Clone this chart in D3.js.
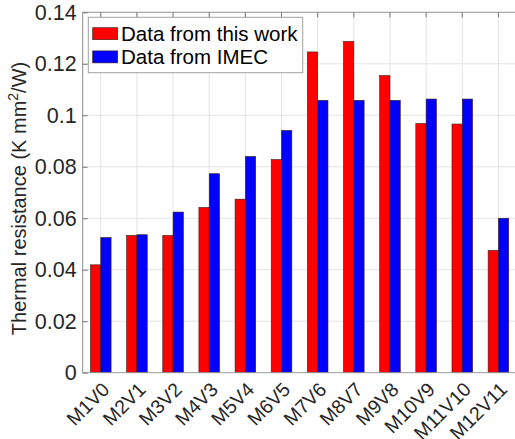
<!DOCTYPE html>
<html>
<head>
<meta charset="utf-8">
<script src="https://cdn.jsdelivr.net/npm/d3@7"></script>
<style>
  html, body { margin: 0; padding: 0; background: #fff; }
  svg { display: block; font-family: "Liberation Sans", Arial, sans-serif; }
</style>
</head>
<body>
<svg id="chart" width="515" height="439"></svg>
<script>
// Interconnect levels and their thermal resistance (K mm^2/W)
const categories = ["M1V0", "M2V1", "M3V2", "M4V3", "M5V4", "M6V5",
                    "M7V6", "M8V7", "M9V8", "M10V9", "M11V10", "M12V11"];
const thisWork = [0.0419, 0.0533, 0.0533, 0.0642, 0.0674, 0.0828,
                  0.1246, 0.1287, 0.1154, 0.0968, 0.0966, 0.0475];
const imec     = [0.0525, 0.0536, 0.0624, 0.0773, 0.0840, 0.0941,
                  0.1058, 0.1058, 0.1058, 0.1063, 0.1063, 0.0600];
const yTicks = [0, 0.02, 0.04, 0.06, 0.08, 0.1, 0.12, 0.14];
const seriesNames = ["Data from this work", "Data from IMEC"];
const seriesColors = ["#ff0000", "#0000ff"];

const svg = d3.select("#chart");
const plotL = 82.7, plotT = 12.3, plotB = 372.7, plotR = 516.5;
const textColor = "#262626";

const x = d3.scaleLinear().domain([0.5, categories.length + 0.5]).range([plotL, plotR]);
const y = d3.scaleLinear().domain([0, 0.14]).range([plotB, plotT]);
const barW = 0.285;

// grid
const grid = svg.append("g");
grid.selectAll("line.gy").data(yTicks.slice(1)).join("line")
  .attr("x1", plotL).attr("x2", plotR)
  .attr("y1", d => y(d)).attr("y2", d => y(d))
  .attr("stroke", "#e3e3e3").attr("stroke-width", 1);
grid.selectAll("line.gx").data(categories).join("line")
  .attr("x1", (d, i) => x(i + 1)).attr("x2", (d, i) => x(i + 1))
  .attr("y1", plotT).attr("y2", plotB)
  .attr("stroke", "#e3e3e3").attr("stroke-width", 1);

// bars
const series = [thisWork, imec];
series.forEach((vals, s) => {
  svg.append("g").selectAll("rect").data(vals).join("rect")
    .attr("x", (d, i) => x(i + 1 + (s === 0 ? -barW : 0)))
    .attr("width", x(barW) - x(0))
    .attr("y", d => y(d))
    .attr("height", d => y(0) - y(d))
    .attr("fill", seriesColors[s])
    .attr("stroke", "#3a1a1a").attr("stroke-width", 0.6);
});

// box lines
svg.append("line").attr("x1", plotL).attr("x2", plotR).attr("y1", plotT).attr("y2", plotT)
  .attr("stroke", "#9a9a9a").attr("stroke-width", 1);
svg.append("line").attr("x1", plotL).attr("x2", plotR).attr("y1", plotB).attr("y2", plotB)
  .attr("stroke", "#9a9a9a").attr("stroke-width", 1);
svg.append("line").attr("x1", plotL).attr("x2", plotL).attr("y1", plotT).attr("y2", plotB)
  .attr("stroke", "#8a8a8a").attr("stroke-width", 1);

// y axis
const yAxis = d3.axisLeft(y).tickValues(yTicks).tickSize(-5).tickPadding(6)
  .tickFormat(d => d === 0 ? "0" : String(+d.toFixed(2)));
const ya = svg.append("g").attr("transform", `translate(${plotL},0)`).call(yAxis);
ya.select(".domain").remove();
ya.selectAll(".tick line").attr("stroke", "#777");
ya.selectAll(".tick text").attr("fill", textColor).attr("font-size", 21.5)
  .attr("font-family", "Liberation Sans, Arial, sans-serif");

// top ticks
svg.append("g").selectAll("line").data(categories).join("line")
  .attr("x1", (d, i) => x(i + 1)).attr("x2", (d, i) => x(i + 1))
  .attr("y1", plotT).attr("y2", plotT + 5)
  .attr("stroke", "#777");

// x labels, rotated
svg.append("g").selectAll("text").data(categories).join("text")
  .attr("transform", (d, i) => `translate(${x(i + 1) + 10},${plotB + 18}) rotate(-45)`)
  .attr("text-anchor", "end")
  .attr("fill", textColor).attr("font-size", 19.5)
  .text(d => d);

// y title
const yt = svg.append("text")
  .attr("transform", `translate(26,${(plotT + plotB) / 2 + 6}) rotate(-90)`)
  .attr("text-anchor", "middle")
  .attr("fill", textColor).attr("font-size", 20);
yt.append("tspan").text("Thermal resistance (K mm");
yt.append("tspan").attr("dy", -8).attr("font-size", 14).text("2");
yt.append("tspan").attr("dy", 8).text("/W)");

// legend
const lg = svg.append("g");
lg.append("rect").attr("x", 88.3).attr("y", 17.3).attr("width", 214.4).attr("height", 55.4)
  .attr("fill", "#fff").attr("stroke", "#a0a0a0").attr("stroke-width", 1);
seriesNames.forEach((name, i) => {
  const yy = 27.7 + i * 23.2;
  lg.append("rect").attr("x", 92.7).attr("y", yy).attr("width", 25).attr("height", 12)
    .attr("fill", seriesColors[i]).attr("stroke", "#3a1a1a").attr("stroke-width", 0.6);
  lg.append("text").attr("x", 121).attr("y", yy + 13.5)
    .attr("fill", "#000").attr("font-size", 20.5).text(name);
});
</script>
</body>
</html>
